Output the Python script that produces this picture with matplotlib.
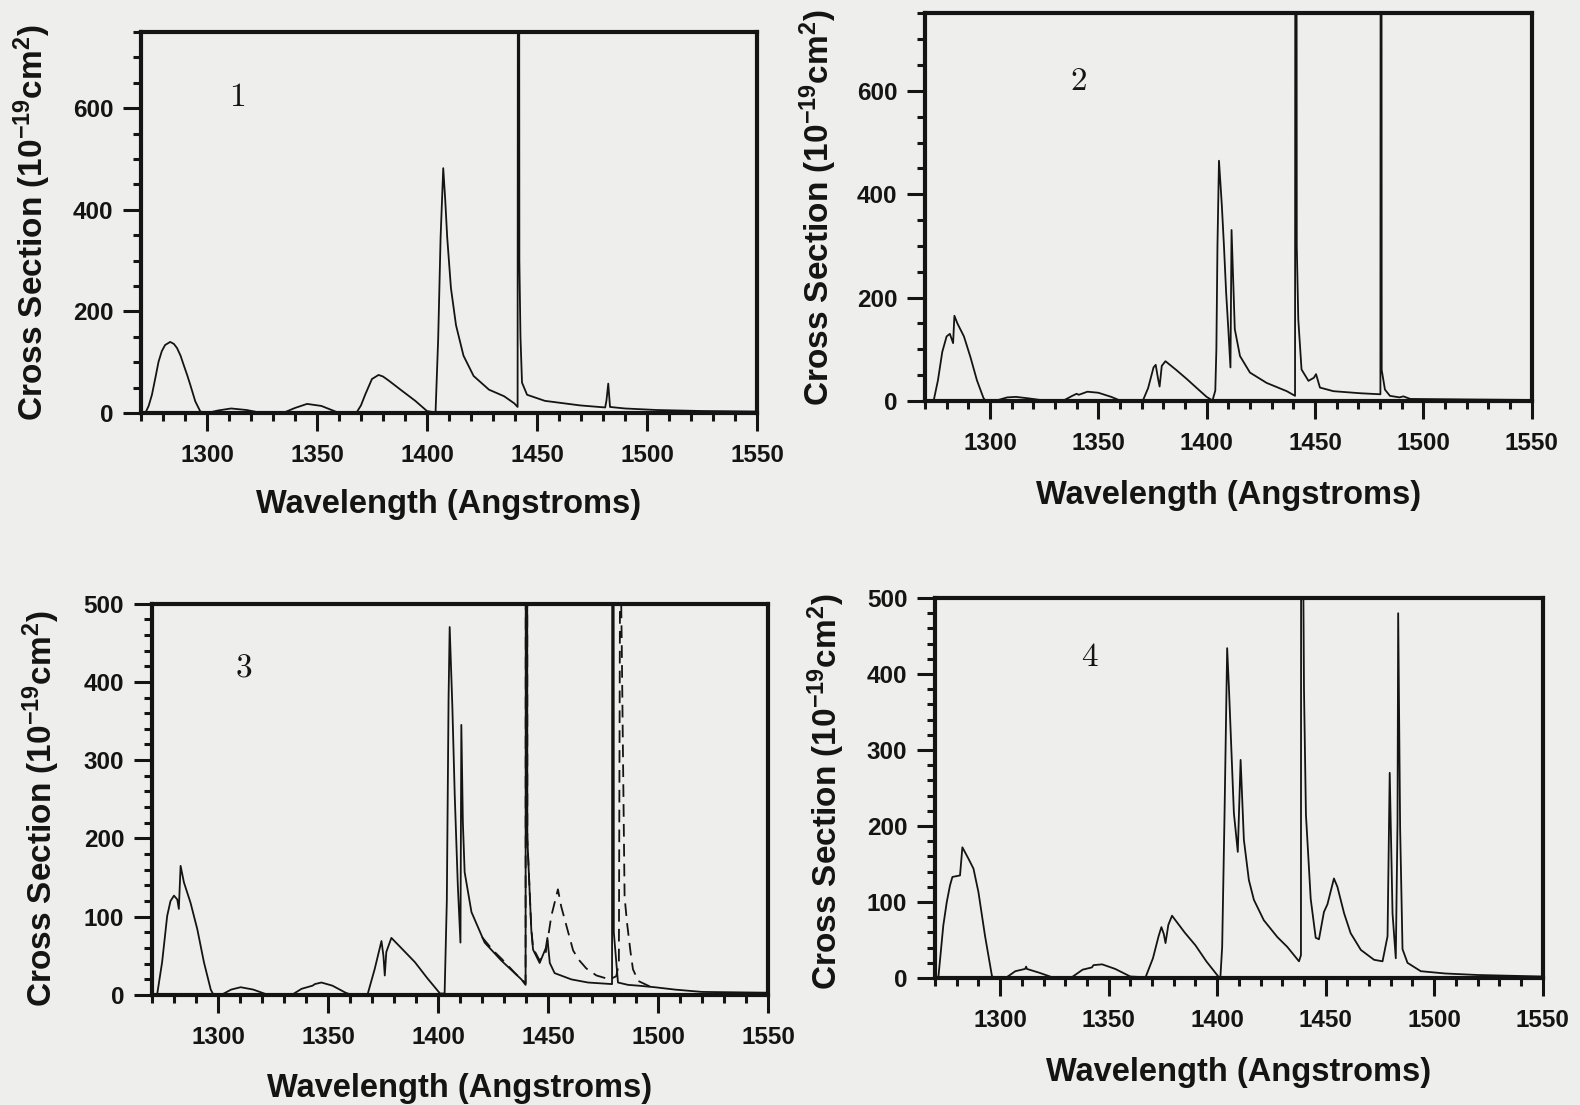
import matplotlib.pyplot as plt
from matplotlib.ticker import MultipleLocator

# cross section spectra, wavelength in Angstroms, values in 1e-19 cm^2
# (the narrow resonances at ~1441 and ~1480 run far off the top of the axes)
wl_1 = [1272, 1273.5, 1275, 1276.5, 1278, 1279.5, 1281, 1283.3, 1285, 1286.4, 1288, 1289.4,
        1291, 1292.4, 1294.7, 1297, 1300,
        1305, 1311, 1318, 1324, 1335, 1340, 1345.5, 1352, 1359,
        1368, 1370, 1372, 1375, 1378, 1380, 1382.6, 1388.6, 1394.7, 1400, 1403.9,
        1405.1, 1406.2, 1407.4, 1408.3, 1409.2, 1410.9, 1413.2, 1416.6, 1421.2, 1428.2,
        1435.1, 1439.7, 1441.2, 1441.6, 1442.0, 1442.5, 1443.2, 1445.5, 1453.6, 1469.7,
        1481.0, 1481.6, 1482.4, 1483.2, 1490, 1504.4, 1525, 1550]
cs_1 = [0, 14, 36, 68, 101, 122, 134, 140, 136, 128, 113, 95,
        75, 56, 23, 3, 0,
        5, 9, 6, 1, 1, 10, 18, 14, 2,
        1, 15, 37, 67, 75, 72, 64, 44, 24, 4, 1,
        146, 346, 482, 420, 346, 246, 173, 113, 73, 46,
        33, 19, 12, 3000, 300, 150, 60, 36, 24, 15,
        11, 25, 58, 12, 9, 6, 4, 3]

wl_2 = [1274, 1276, 1278, 1280, 1281.5, 1283, 1283.6, 1285, 1288, 1291, 1294, 1297, 1298,
        1303, 1308, 1312, 1318, 1325,
        1334, 1338, 1340, 1341, 1345, 1350, 1356, 1360,
        1370.6, 1373, 1375.5, 1376.5, 1377.5, 1378.3, 1379.3, 1381, 1386, 1391, 1396, 1400, 1402.7,
        1404, 1404.5, 1405, 1405.7, 1407, 1408, 1409, 1410, 1411, 1411.5, 1413, 1415.4, 1420,
        1427.7, 1437, 1440.8, 1441.2, 1441.6, 1442.3, 1443.8, 1447, 1449.5, 1450.5, 1452.3,
        1458.5, 1471, 1480.2, 1480.5, 1480.8, 1482.3, 1484.6, 1489, 1490.8, 1494, 1520, 1550]
cs_2 = [0, 40, 95, 125, 130, 112, 165, 150, 125, 85, 40, 6, 0,
        1, 7, 8, 5, 1,
        1, 10, 14, 12, 18, 16, 8, 1,
        1, 25, 65, 70, 45, 28, 68, 77, 60, 42, 23, 8, 1,
        20, 100, 300, 465, 380, 300, 210, 140, 65, 331, 139, 87, 55,
        35, 19, 10, 3000, 300, 158, 61, 39, 45, 52, 26,
        19, 15, 13, 3000, 60, 22, 10, 7, 9, 4, 3, 2]

wl_3 = [1272.3, 1274.6, 1276.9, 1278.4, 1280, 1281.5, 1282.2, 1283, 1284.5, 1287.5, 1290.6,
        1293.6, 1296.7, 1298,
        1302, 1306, 1310.3, 1316, 1322,
        1334, 1338, 1343, 1344, 1347, 1352, 1358, 1360,
        1368, 1371.2, 1374.3, 1375.2, 1375.8, 1376.5, 1378.8, 1384, 1389.5, 1395, 1400.9,
        1403, 1404, 1404.8, 1405.3, 1406.5, 1407.6, 1409, 1410.2, 1410.6, 1411.3, 1412.1,
        1415.2, 1421.2, 1428.8, 1437.9, 1439.8, 1440.2, 1440.6, 1442.4, 1443.2, 1446.2,
        1449.0, 1449.7, 1450.8, 1453, 1460.6, 1468.2, 1479.1, 1479.5, 1479.9, 1481.8,
        1486.4, 1491, 1498.5, 1507.6, 1520, 1550]
cs_3 = [0, 42, 101, 120, 127, 122, 110, 165, 144, 118, 84,
        42, 7, 0,
        1, 7, 10, 7, 1,
        1, 8, 12, 14, 16, 12, 3, 1,
        1, 33, 69, 50, 25, 55, 73, 58, 42, 22, 2,
        2, 120, 380, 470, 370, 255, 140, 67, 345, 220, 157,
        106, 67, 44, 20, 13, 3000, 200, 83, 58, 41,
        60, 73, 41, 28, 20, 16, 14, 3000, 80, 16,
        13, 12, 10, 7, 4, 3]

# second (dashed) calculation, only differs around 1420-1495
wl_3d = [1420, 1425, 1429, 1435, 1439.8, 1440.2, 1440.6, 1442.4, 1443.2, 1446.2, 1449,
         1451.5, 1454.5, 1456, 1458.8, 1461.4, 1464, 1467.4, 1472, 1478, 1481, 1482.2,
         1482.8, 1483.5, 1484.8, 1486, 1487.5, 1488.6, 1491, 1497]
cs_3d = [74, 57, 46, 28, 15, 3000, 200, 85, 60, 44, 55,
         101, 135, 113, 84, 57, 45, 34, 25, 20, 24, 40,
         600, 450, 125, 90, 55, 33, 18, 10]

wl_4 = [1271.5, 1273.8, 1275.4, 1276.9, 1278, 1281.5, 1282.6, 1285.4, 1287.7, 1290, 1293,
        1296.2, 1297,
        1303, 1307, 1311.5, 1312, 1312.3, 1318, 1324,
        1333, 1338, 1342.3, 1343, 1347, 1353, 1360,
        1367, 1370.4, 1373, 1374.3, 1375.4, 1376.2, 1377.5, 1379.2, 1385, 1390, 1395, 1400.8,
        1401.5, 1402.3, 1403.4, 1404.6, 1405.4, 1407.7, 1409.5, 1410.8, 1412.3, 1414.6,
        1416.9, 1421.5, 1427.7, 1432.3, 1437.7, 1438.6, 1439.0, 1439.5, 1440.0, 1440.9, 1443.1,
        1445.4, 1446.9, 1449.2, 1450.8, 1453.8, 1455.4, 1458.5, 1461.5, 1466.2, 1472.3,
        1476.2, 1478.5, 1479.5, 1480.8, 1482.3, 1483.1, 1483.4, 1484.3, 1485.4, 1487.7,
        1493.8, 1505, 1520, 1550]
cs_4 = [0, 69, 100, 122, 133, 135, 172, 157, 144, 113, 56,
        3, 0,
        1, 9, 12, 15, 12, 7, 1,
        1, 11, 14, 17, 18, 12, 2,
        1, 26, 55, 67, 58, 46, 70, 82, 60, 43, 22, 1,
        2, 41, 217, 434, 383, 217, 166, 287, 182, 129,
        103, 76, 54, 41, 22, 30, 3000, 600, 380, 215, 104,
        53, 51, 87, 97, 131, 120, 85, 59, 37, 24,
        22, 55, 270, 85, 26, 206, 480, 197, 38, 20,
        9, 6, 4, 2]

plt.rcParams['font.family'] = ['Liberation Sans', 'DejaVu Sans']
plt.rcParams['font.weight'] = 'bold'
plt.rcParams['mathtext.fontset'] = 'custom'
plt.rcParams['mathtext.rm'] = 'Liberation Sans:bold'
plt.rcParams['mathtext.it'] = 'Liberation Sans:bold'
plt.rcParams['mathtext.bf'] = 'Liberation Sans:bold'

paper = '#eeeeec'
ink = '#141414'

fig = plt.figure(figsize=(15.8, 11.05), dpi=100, facecolor=paper)

# rect, ymax, major/minor y step, panel tag, tag position, x/y label offsets
panels = [
    dict(rect=[0.0892, 0.6262, 0.3899, 0.3448], ymax=750, major=200, minor=50,
         tag='1', tag_xy=(1314, 622), xl=-0.200, yl=-0.143, ylc=0.5,
         lines=[(wl_1, cs_1, '-')]),
    dict(rect=[0.5854, 0.6371, 0.3840, 0.3507], ymax=750, major=200, minor=50,
         tag='2', tag_xy=(1341, 619), xl=-0.203, yl=-0.142, ylc=0.5,
         lines=[(wl_2, cs_2, '-')]),
    dict(rect=[0.0962, 0.0995, 0.3899, 0.3543], ymax=500, major=100, minor=20,
         tag='3', tag_xy=(1312, 416), xl=-0.200, yl=-0.146, ylc=0.475,
         lines=[(wl_3, cs_3, '-'), (wl_3d, cs_3d, (0, (7, 4)))]),
    dict(rect=[0.5918, 0.1149, 0.3846, 0.3439], ymax=500, major=100, minor=20,
         tag='4', tag_xy=(1341, 422), xl=-0.208, yl=-0.145, ylc=0.49,
         lines=[(wl_4, cs_4, '-')]),
]

for p in panels:
    ax = fig.add_axes(p['rect'], facecolor=paper)
    for wl, cs, ls in p['lines']:
        ax.plot(wl, cs, color=ink, lw=1.3, linestyle=ls)

    ax.set_xlim(1270, 1550)
    ax.set_ylim(0, p['ymax'])
    ax.set_xticks([1300, 1350, 1400, 1450, 1500, 1550])
    ax.xaxis.set_minor_locator(MultipleLocator(10))
    ax.set_yticks(list(range(0, p['ymax'] + 1, p['major'])))
    ax.yaxis.set_minor_locator(MultipleLocator(p['minor']))

    for s in ax.spines.values():
        s.set_linewidth(3)
        s.set_color(ink)
    ax.tick_params(which='major', direction='out', length=13, width=2.2,
                   labelsize=17.5, colors=ink)
    ax.tick_params(axis='x', which='major', pad=9)
    ax.tick_params(axis='y', which='major', pad=7)
    ax.tick_params(which='minor', direction='out', length=6, width=2.2, colors=ink)
    ax.tick_params(which='both', top=False, right=False)

    ax.set_xlabel('Wavelength (Angstroms)', fontsize=23.5, fontweight='bold', color=ink)
    ax.xaxis.set_label_coords(0.5, p['xl'])
    ax.set_ylabel(r'Cross Section (10$^{-19}$cm$^{2}$)', fontsize=24,
                  fontweight='bold', color=ink)
    ax.yaxis.set_label_coords(p['yl'], p['ylc'])

    ax.text(*p['tag_xy'], p['tag'], fontfamily='cmr10', fontweight='normal',
            fontsize=24, ha='center', va='center', color=ink)

fig.savefig('out.png', dpi=100, facecolor=paper)
